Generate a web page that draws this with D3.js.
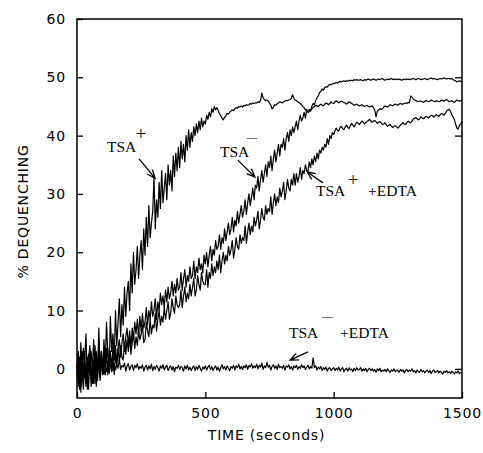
<!DOCTYPE html>
<html>
<head>
<meta charset="utf-8">
<script src="https://cdn.jsdelivr.net/npm/d3@7"></script>
<style>
  body { margin: 0; background: #fff; }
  .tick text, .axis-title { font-family: "DejaVu Sans", sans-serif; font-size: 14px; letter-spacing: 0.8px; fill: #000; }
  .note { font-family: "Liberation Serif", "Times New Roman", serif; font-size: 15.5px; fill: #000; }
</style>
</head>
<body>
<div id="chart"></div>
<script>
// traces sampled every 5 s from 0 to 1500 s (% dequenching), one row = 50 s
const sampleStep = 5;

const tsaPlus = [
  0, 3, -2.5, 4.5, -1, -3.5, 2, 6, -2, 1.5,
  4, -3, 0.5, 5, -2.5, 2, -1, 7, 0, 3,
  -1, 5, 1, 8, 2.5, -0.5, 9, 3, 6, 1.5,
  10, 4, 8, 12, 5.5, 11, 7.5, 14, 9, 13,
  15, 10, 18, 13, 20, 14.5, 17, 21, 15.5, 19.5,
  22, 17, 24, 19.5, 26, 21, 28, 22.5, 25, 27,
  33, 24, 29, 26, 32, 27.5, 34, 28.5, 31, 33.5,
  29, 35, 31.5, 34, 30.5, 36.5, 33, 37, 34, 38,
  34.5, 39, 36, 38.5, 35.5, 40, 37.5, 41, 38, 40.5,
  39, 41.5, 40, 42, 40.5, 42.5, 41, 43, 41.5, 42.5,
  42, 43.5, 42.8, 44, 43.2, 44.6, 44, 45, 44.4, 44.8,
  44.3, 43.8, 43.4, 43, 42.7, 43.1, 43.4, 43.8, 43.7, 44,
  44.2, 44.4, 44.3, 44.6, 44.8, 44.7, 45, 44.9, 45.1, 44.9,
  45.2, 45.1, 45.3, 45.2, 45.3, 45.5, 45.4, 45.6, 45.5, 45.6,
  45.6, 45.8, 45.7, 46, 47.3, 46.5, 46.2, 46, 46.1, 45.9,
  45.6, 45.2, 44.6, 44.9, 45.3, 45.2, 45.5, 45.6, 45.8, 45.7,
  45.6, 45.8, 45.9, 46, 46, 46.1, 46.2, 46.4, 47, 46.4,
  46.1, 46, 45.8, 45.7, 45.5, 45.3, 45, 44.8, 44.4, 44.2,
  44, 44.1, 44.3, 44.6, 44.8, 45, 45.2, 45.1, 45, 45.2,
  45.4, 45.2, 45.1, 45.4, 45.6, 45.5, 45.3, 45.5, 45.8, 45.6,
  45.5, 45.8, 46, 45.8, 45.6, 45.8, 45.9, 45.8, 45.7, 45.6,
  45.4, 45.6, 45.8, 45.7, 45.5, 45.4, 45.2, 45.3, 45.4, 45.2,
  45.1, 45.2, 45.3, 45.1, 45, 45.1, 45.2, 45, 44.9, 45,
  45.1, 44.8, 44.4, 43.2, 44.2, 44.4, 44.6, 44.5, 44.6, 44.9,
  45.1, 45, 44.9, 45.1, 45.3, 45.2, 45.1, 45.3, 45.4, 45.3,
  45.2, 45.4, 45.5, 45.4, 45.4, 45.5, 45.6, 45.5, 45.7, 45.6,
  46.8, 46.6, 46.3, 46.1, 46, 45.9, 45.8, 45.9, 45.9, 45.8,
  45.7, 45.9, 46, 45.9, 45.8, 45.9, 46.1, 46, 45.9, 45.8,
  46, 45.9, 45.8, 45.9, 46.1, 46, 45.9, 46.1, 46.2, 46,
  45.8, 45.9, 46, 45.8, 45.7, 45.9, 46.1, 46, 45.9, 46,
  46
];

const tsaMinus = [
  1, -2.5, 2, -3, 0.5, 3.5, -1.5, 1, -3.5, 2.5,
  -1, 3, 0, -2.5, 4, 1, -2, 2.5, -0.5, 3,
  0, 3, -1, 2, 3.5, 0.5, 2.5, -0.5, 4, 1.5,
  4, 1, 3.5, 5, 2, 4.5, 6, 3, 5.5, 7,
  4, 6.5, 3.5, 7, 5, 8, 6, 8.5, 5.5, 9,
  6.5, 9.5, 7, 8, 10.5, 7.5, 10, 8.5, 11.5, 9,
  10, 12, 8.5, 11.5, 10, 13, 11, 12.5, 10.5, 13.5,
  11.5, 14, 12, 13, 15, 12.5, 14.5, 13, 15.5, 13.5,
  14, 16.5, 13.5, 15.5, 17, 14, 16, 15, 17.5, 15.5,
  16, 18.5, 15.5, 17.5, 16.5, 19, 17, 18, 16.5, 19.5,
  18, 20, 17.5, 19.5, 21, 18.5, 20.5, 19.5, 22, 20.5,
  21, 23, 20.5, 22.5, 21.5, 24, 22, 23.5, 25, 23,
  24, 26, 23.5, 25.5, 24.5, 27, 25, 26.5, 28, 26,
  27, 29, 26.5, 28.5, 30, 28, 29.5, 31, 29, 31.5,
  31, 33, 30.5, 32.5, 34, 32, 33.5, 35, 33, 35.5,
  34.5, 36.5, 34, 36, 37.5, 35.5, 37, 38.5, 36.5, 38.5,
  38, 39.5, 37.5, 39.5, 40.5, 39, 41, 40, 41.5, 40.5,
  41.5, 42.5, 41, 42.5, 43.5, 42.5, 43, 44, 43, 44.5,
  44, 44.5, 44.2, 45, 45.5, 45.3, 46, 46.5, 46.8, 47.4,
  47.6, 48, 47.8, 48.2, 48.4, 48.3, 48.6, 48.8, 48.7, 48.9,
  48.9, 49, 49.1, 49, 49.2, 49.3, 49.2, 49.3, 49.4, 49.3,
  49.4, 49.3, 49.5, 49.4, 49.5, 49.4, 49.6, 49.5, 49.6, 49.5,
  49.5, 49.6, 49.5, 49.4, 49.6, 49.5, 49.6, 49.7, 49.6, 49.5,
  49.6, 49.7, 49.6, 49.5, 49.6, 49.7, 49.6, 49.7, 49.8, 49.6,
  49.5, 49.6, 49.7, 49.6, 49.7, 49.8, 49.6, 49.7, 49.6, 49.7,
  49.6, 49.7, 49.6, 49.5, 49.6, 49.7, 49.6, 49.7, 49.6, 49.7,
  49.6, 49.7, 49.8, 49.7, 49.6, 49.7, 49.8, 49.7, 49.6, 49.7,
  49.7, 49.8, 49.7, 49.6, 49.7, 49.8, 49.9, 49.7, 49.8, 49.7,
  49.7, 49.6, 49.7, 49.8, 49.7, 49.8, 49.9, 49.8, 49.7, 49.8,
  49.8, 49.7, 49.8, 49.6, 49.5, 49.4, 49.2, 49.3, 49.4, 49.3,
  49.3
];

const tsaPlusEdta = [
  -1.5, 2.5, -3.5, 1, 3, -2, 0.5, -3, 2, -0.5,
  3.5, -2, 1.5, -1, 2.5, -3, 0, 4, -1.5, 1.5,
  -0.5, 2.5, 0, 3.5, -1, 1.5, 3, 0.5, 2, -1,
  2.5, 0.5, 3.5, 1, 4, 2, 1.5, 4.5, 2.5, 5,
  3, 5.5, 2.5, 4.5, 6, 3.5, 5.5, 4, 6.5, 5,
  6, 7.5, 4.5, 5, 8, 6.5, 5.5, 8.5, 6, 7.5,
  7, 9.5, 6.5, 8.5, 10, 7.5, 9, 8, 10.5, 8.5,
  10, 11.5, 8.5, 9.5, 12, 10.5, 9.5, 12.5, 11, 10.5,
  11, 13.5, 10.5, 12.5, 14, 11.5, 13, 12, 14.5, 12.5,
  14, 15.5, 12.5, 13.5, 16, 14.5, 13.5, 16.5, 15, 14.5,
  14.5, 17, 14, 16.5, 15.5, 18, 16, 17.5, 16.5, 18.5,
  17, 19.5, 16.5, 18.5, 20, 18, 19.5, 18.5, 21, 19.5,
  20.5, 22, 19, 20.5, 22.5, 21, 20.5, 23, 21.5, 22.5,
  22, 24.5, 21.5, 23.5, 25, 23, 24.5, 23.5, 26, 24.5,
  25.5, 27, 24, 25.5, 27.5, 26, 25.5, 28, 26.5, 27.5,
  27, 29.5, 26.5, 28.5, 30, 28, 29.5, 28.5, 31, 29.5,
  30.5, 32, 29, 30.5, 32.5, 31, 30.5, 32.5, 31.5, 33.5,
  31.5, 33.5, 32, 33, 34.5, 32.5, 34, 33.5, 35, 34,
  34, 35.5, 34.5, 36, 35, 36.5, 35.5, 37, 36, 37.5,
  37, 38, 37.5, 38.5, 38, 39.5, 38.5, 40, 39.5, 40.5,
  40.2, 40.8, 41.3, 40.9, 40.8, 41.4, 41.6, 41.2, 41, 41.5,
  41.8, 41.4, 41.2, 41.7, 42.1, 41.8, 41.5, 41.9, 42.3, 42.1,
  41.9, 42.2, 42.5, 42.3, 42, 42.2, 42.4, 42.6, 42.8, 42.5,
  42.3, 42.5, 42.6, 42.4, 42.1, 42.3, 42.4, 42.2, 41.9, 42,
  42.2, 41.9, 41.6, 41.8, 41.9, 41.6, 41.4, 41.6, 41.7, 41.5,
  41.3, 41.5, 41.8, 42, 42.2, 42, 41.9, 42.2, 42.5, 42.3,
  42.2, 42.5, 42.8, 43, 43.1, 42.9, 42.7, 42.9, 43.2, 43,
  42.9, 43.1, 43.3, 43.2, 43, 43.3, 43.5, 43.4, 43.2, 43.4,
  43.6, 43.4, 43.3, 43.6, 43.8, 43.7, 43.5, 43.8, 44.2, 44.4,
  44.5, 44.2, 43.6, 43.2, 42.8, 42, 41.3, 41.1, 41.8, 42,
  42.4
];

const tsaMinusEdta = [
  0.5, -3, 1.5, -4, 2.5, -1.5, 3, -2.5, 0, -3.5,
  2, -1, -2.5, 1.5, -1.5, 3, -0.5, 1, -2, 0.5,
  1.5, -1, 0.5, -0.5, 1.2, -0.8, 0.4, 1.5, -0.3, 0.9,
  -0.2, 0.8, 0.1, 1.6, -0.1, 0.6, 0.3, 1, -0.4, 0.5,
  0.9, -0.2, 0.4, 0.7, -0.3, 0.6, 0.2, 0.9, -0.1, 0.4,
  0.1, 0.7, -0.4, 0.3, 0.6, -0.2, 0.5, 0, 0.8, -0.3,
  0.4, -0.1, 0.6, 0.2, -0.4, 0.5, 0.1, 0.7, -0.2, 0.3,
  0.6, -0.3, 0.2, 0.5, -0.2, 0.4, -0.5, 0.3, 0.1, 0.6,
  -0.1, 0.4, 0.2, -0.4, 0.5, 0, 0.6, -0.2, 0.3, -0.3,
  0.2, 0.5, -0.3, 0.4, -0.1, 0.6, 0.1, -0.4, 0.3, 0,
  0.5, -0.2, 0.3, 0.6, -0.1, 0.4, -0.3, 0.2, 0.5, -0.2,
  0.3, -0.4, 0.2, 0.7, 0, 0.4, -0.2, 0.5, 0.1, -0.3,
  0.4, 0.1, 0.6, -0.2, 0.5, 0.2, 0.8, 0, 0.4, -0.1,
  0.5, 0.2, 0.7, -0.1, 0.6, 0.3, 0.9, 0.1, 0.5, 0.2,
  0.8, 0, 0.6, 0.3, 1, -0.1, 0.5, 0.2, 1.1, 0.3,
  0.6, -0.2, 0.4, 0.7, 0.1, 0.5, -0.1, 0.8, 0.2, 0.4,
  0.1, 0.6, -0.2, 0.5, 0.3, 0.7, 0, 0.4, -0.2, 0.5,
  0.2, 0.6, -0.1, 0.4, 0.1, 0.7, 0.2, 0.5, -0.1, 0.3,
  0.6, 0, 0.4, 0.1, 1.9, 0.2, 0.5, -0.2, 0.3, 0,
  0.4, -0.3, 0.2, -0.1, 0.3, -0.4, 0.1, 0.2, -0.3, 0,
  0.2, -0.3, 0.1, -0.2, 0.3, -0.4, 0, 0.2, -0.5, -0.1,
  0.1, -0.4, 0.2, -0.2, 0, -0.5, 0.1, -0.3, 0.2, -0.2,
  -0.1, 0.2, -0.4, 0, -0.3, 0.1, -0.5, -0.1, 0.1, -0.3,
  0, -0.4, -0.1, -0.6, 0, -0.3, 0.1, -0.5, -0.2, -0.4,
  -0.1, -0.5, 0, -0.3, -0.6, -0.2, -0.4, 0, -0.5, -0.2,
  -0.3, -0.6, -0.1, -0.4, -0.2, -0.7, -0.3, -0.1, -0.5, -0.2,
  -0.4, 0, -0.5, -0.3, -0.7, -0.2, -0.4, -0.6, -0.1, -0.5,
  -0.3, -0.7, -0.4, -0.2, -0.6, -0.3, -0.8, -0.4, -0.2, -0.6,
  -0.5, -0.3, -0.7, -0.4, -0.6, -0.9, -0.4, -0.6, -0.3, -0.7,
  -0.5, -0.8, -0.4, -0.6, -0.9, -0.5, -0.7, -0.4, -0.8, -0.6,
  -0.6
];

const xTicks = [0, 500, 1000, 1500];
const yTicks = [0, 10, 20, 30, 40, 50, 60];
const rightTicks = [0, 40, 50];

const w = 483, h = 453, margin = {top: 19, right: 21, bottom: 55, left: 77};
const svg = d3.select("#chart").append("svg").attr("width", w).attr("height", h);

const x = d3.scaleLinear().domain([0, 1500]).range([margin.left, w - margin.right]);
const y = d3.scaleLinear().domain([-5, 60]).range([h - margin.bottom, margin.top]);

// axes, ticks point inward
svg.append("g").attr("transform", `translate(0,${h - margin.bottom})`)
    .call(d3.axisBottom(x).tickValues(xTicks).tickFormat(d3.format("d")).tickSize(-6).tickPadding(10));
svg.append("g").attr("transform", `translate(${margin.left},0)`)
    .call(d3.axisLeft(y).tickValues(yTicks).tickSize(-6).tickPadding(11));
svg.append("g").attr("transform", `translate(${w - margin.right},0)`)
    .call(d3.axisRight(y).tickValues(rightTicks).tickSize(-7).tickFormat(""));
svg.selectAll(".domain").remove();
svg.selectAll(".tick line").attr("stroke", "#000").attr("stroke-width", 1.3);

svg.append("rect")
    .attr("x", margin.left).attr("y", margin.top)
    .attr("width", w - margin.left - margin.right).attr("height", h - margin.top - margin.bottom)
    .attr("fill", "none").attr("stroke", "#000").attr("stroke-width", 1.5);

// traces
const line = d3.line().x((d, i) => x(i * sampleStep)).y(d => y(d));
[tsaPlus, tsaMinus, tsaPlusEdta, tsaMinusEdta].forEach(s => {
    svg.append("path").datum(s).attr("d", line)
        .attr("fill", "none").attr("stroke", "#000").attr("stroke-width", 1.2).attr("stroke-linejoin", "round");
});

// axis titles
svg.append("text").attr("class", "axis-title")
    .attr("x", x(750) - 3).attr("y", 440).attr("text-anchor", "middle").text("TIME (seconds)");
svg.append("text").attr("class", "axis-title")
    .attr("transform", `translate(28,${y(27)}) rotate(-90)`).attr("text-anchor", "middle").text("% DEQUENCHING");

// annotations (positions in data units)
const notes = [
    {parts: [{t: 117, v: 37.2, s: "TSA"}, {t: 228, v: 39.2, s: "+", size: "19px"}], arrow: [242, 36, 304, 32.7]},
    {parts: [{t: 557, v: 36.3, s: "TSA"}, {t: 660, v: 39.1, s: "\u2014", size: "11px"}], arrow: [627, 35.8, 693, 32.9]},
    {parts: [{t: 931, v: 29.7, s: "TSA"}, {t: 1055, v: 31.4, s: "+", size: "19px"}, {t: 1134, v: 29.7, s: "+EDTA"}], arrow: [958, 31.9, 896, 33.8]},
    {parts: [{t: 826, v: 5.3, s: "TSA"}, {t: 955, v: 8.4, s: "\u2014", size: "11px"}, {t: 1025, v: 5.3, s: "+EDTA"}], arrow: [900, 2.9, 830, 1.5]}
];

notes.forEach(n => {
    n.parts.forEach(p => {
        svg.append("text").attr("class", "note")
            .attr("x", x(p.t)).attr("y", y(p.v))
            .attr("fill", "#000")
            .style("font-size", p.size || null)
            .text(p.s);
    });
    const [t1, v1, t2, v2] = n.arrow;
    const x1 = x(t1), y1 = y(v1), x2 = x(t2), y2 = y(v2);
    const ang = Math.atan2(y2 - y1, x2 - x1), len = 9, spread = 0.4;
    const p = d3.path();
    p.moveTo(x1, y1); p.lineTo(x2, y2);
    p.moveTo(x2 - len * Math.cos(ang - spread), y2 - len * Math.sin(ang - spread));
    p.lineTo(x2, y2);
    p.lineTo(x2 - len * Math.cos(ang + spread), y2 - len * Math.sin(ang + spread));
    svg.append("path").attr("d", p.toString())
        .attr("fill", "none").attr("stroke", "#000").attr("stroke-width", 1.3);
});
</script>
</body>
</html>
